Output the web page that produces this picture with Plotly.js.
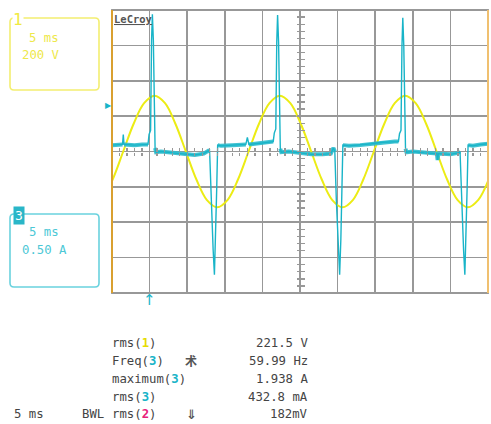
<!DOCTYPE html>
<html>
<head>
<meta charset="utf-8">
<script src="https://cdn.plot.ly/plotly-3.0.1.min.js"></script>
<style>html,body{margin:0;padding:0;background:#fff;}#chart{width:491px;height:424px;}</style>
</head>
<body>
<div id="chart"></div>
<script>
// ---- Channel 1: line voltage (V) ----
var voltTime = [-26.29,-24.90,-23.51,-22.12,-20.73,-19.34,-17.95,-16.57,-15.18,-13.79,-12.40,-11.01,-9.62,-8.23,
  -6.84,-5.45,-4.06,-2.68,-1.29,0.10,1.49,2.88,4.27,5.66,7.05,8.43,9.82,11.21,12.60,13.99,15.38,16.77,18.16,19.55,20.94,22.32,23.71,25.10];
var voltValue = [-273,-157,0,157,273,315,273,157,0,-157,-273,-315,-273,-157,
  0,157,273,315,273,157,0,-157,-273,-315,-273,-157,
  0,157,273,315,273,157,0,-157,-273,-315,-273,-157];

// ---- Channel 3: line current (A) ----
var curTime = [
 -25,-24,-23.6,-23.5,-23.4,-22,-21,-20.4,
 -20.21,-20.07,-19.87,-19.74,-19.63,-19.50,-19.41,-19.27,-19.14,
 -18.5,-17,-15.5,-14,-12.8,-12.2,
 -12.02,-11.82,-11.55,-11.38,-11.22,-11.08,-10.95,
 -10.5,-9,-7.2,-7.0,-6.8,-5,-3.8,
 -3.56,-3.42,-3.22,-3.09,-2.98,-2.85,-2.76,-2.62,-2.49,
 -1.5,0,1.5,3,4.1,4.45,
 4.63,4.83,5.10,5.27,5.43,5.57,5.70,
 6.5,8,9.5,11,12.6,
 13.09,13.23,13.43,13.56,13.67,13.80,13.89,14.03,14.16,
 15,16.5,18.2,18.3,18.4,20,21.0,
 21.28,21.48,21.75,21.92,22.08,22.22,22.35,
 23,24,25];
var curValue = [
 0.09,0.09,0.10,0.24,0.10,0.09,0.10,0.10,
 0.10,0.24,0.30,1.57,1.94,1.57,0.73,0.05,-0.01,
 0.00,-0.02,-0.04,-0.05,-0.03,0.01,
 0.00,-0.68,-1.39,-1.74,-1.25,-0.54,0.09,
 0.08,0.09,0.10,0.20,0.10,0.12,0.14,
 0.14,0.26,0.32,1.55,1.93,1.55,0.70,0.04,-0.01,
 0.00,-0.02,-0.04,-0.04,-0.03,0.05,
 0.00,-0.68,-1.39,-1.74,-1.25,-0.54,0.09,
 0.08,0.09,0.11,0.13,0.14,
 0.14,0.25,0.30,1.50,1.89,1.50,0.70,0.04,-0.01,
 0.00,-0.02,-0.03,-0.12,-0.03,-0.04,-0.02,
 0.00,-0.68,-1.39,-1.74,-1.25,-0.54,0.09,
 0.08,0.10,0.11];

// ---- Text ----
var ch1Label = ['5 ms', '200 V'];
var ch3Label = ['5 ms', '0.50 A'];
var measNames = ['rms(<b><span style="color:#e6dc00">1</span></b>)',
                 'Freq(<b><span style="color:#1ab4c8">3</span></b>)',
                 'maximum(<b><span style="color:#1ab4c8">3</span></b>)',
                 'rms(<b><span style="color:#1ab4c8">3</span></b>)',
                 'rms(<b><span style="color:#e8207a">2</span></b>)'];
var measValues = ['221.5 V', '59.99 Hz', '1.938 A', '432.8 mA', '182mV'];

var YEL = '#ecec14', CYAN = '#18b4c8', GRID = '#989898', TXT = '#444444';
var L = 112, R = 488, T = 10, B = 293;
function X(px){ return (px - L) / (R - L); }
function Y(py){ return (B - py) / (B - T); }
function rr(x0, y0, x1, y1, r){
  return 'M' + X(x0 + r) + ',' + Y(y0) + ' L' + X(x1 - r) + ',' + Y(y0) +
    ' Q' + X(x1) + ',' + Y(y0) + ' ' + X(x1) + ',' + Y(y0 + r) +
    ' L' + X(x1) + ',' + Y(y1 - r) +
    ' Q' + X(x1) + ',' + Y(y1) + ' ' + X(x1 - r) + ',' + Y(y1) +
    ' L' + X(x0 + r) + ',' + Y(y1) +
    ' Q' + X(x0) + ',' + Y(y1) + ' ' + X(x0) + ',' + Y(y1 - r) +
    ' L' + X(x0) + ',' + Y(y0 + r) +
    ' Q' + X(x0) + ',' + Y(y0) + ' ' + X(x0 + r) + ',' + Y(y0) + ' Z';
}
var MONO = 'DejaVu Sans Mono';
function ann(text, px, py, o){
  var a = {text: text, xref: 'paper', yref: 'paper', x: X(px), y: Y(py), showarrow: false,
    xanchor: 'left', yanchor: 'middle', font: {family: MONO, size: 12.3, color: TXT}};
  for (var k in o) a[k] = o[k];
  return a;
}

// noisy baseline band: only the quiet parts of the current trace
var bandValue = curValue.map(function(v){ return Math.abs(v) < 0.2 ? v : null; });

var traces = [
  {x: voltTime, y: voltValue, type: 'scatter', mode: 'lines', line: {color: YEL, width: 2, shape: 'spline', smoothing: 1}, xaxis: 'x', yaxis: 'y', hoverinfo: 'skip'},
  {x: curTime, y: bandValue, type: 'scatter', mode: 'lines', line: {color: '#2dbccd', width: 4}, opacity: 0.9, connectgaps: false, xaxis: 'x', yaxis: 'y2', hoverinfo: 'skip'},
  {x: curTime, y: curValue, type: 'scatter', mode: 'lines', line: {color: CYAN, width: 1.4}, xaxis: 'x', yaxis: 'y2', hoverinfo: 'skip'},
  {x: [null], y: [null], xaxis: 'x2', yaxis: 'y', hoverinfo: 'skip'},
  {x: [null], y: [null], xaxis: 'x3', yaxis: 'y', hoverinfo: 'skip'},
  {x: [null], y: [null], xaxis: 'x', yaxis: 'y3', hoverinfo: 'skip'},
  {x: [null], y: [null], xaxis: 'x', yaxis: 'y4', hoverinfo: 'skip'}
];

var tickAxisX = function(side){ return {overlaying: 'x', anchor: 'free', position: 0.5, range: [-25, 25],
  tickmode: 'linear', tick0: -25, dtick: 1, ticks: side, ticklen: 3.5, tickwidth: 1.3, tickcolor: GRID,
  showticklabels: false, showgrid: false, zeroline: false, showline: false}; };
var tickAxisY = function(side){ return {overlaying: 'y', anchor: 'free', position: 0.5, range: [-800, 800],
  tickmode: 'linear', tick0: -800, dtick: 40, ticks: side, ticklen: 3.5, tickwidth: 1.3, tickcolor: GRID,
  showticklabels: false, showgrid: false, zeroline: false, showline: false}; };

var annotations = [
  ann('1', 12, 19, {font: {family: MONO, size: 16, color: '#f0ea40'}, bgcolor: '#ffffff', borderpad: 0}),
  ann(ch1Label[0], 27, 38, {font: {family: MONO, size: 12.3, color: '#eee84a'}}),
  ann(ch1Label[1], 20, 55, {font: {family: MONO, size: 12.3, color: '#eee84a'}}),
  ann('3', 13, 215, {font: {family: MONO, size: 13, color: '#ffffff'}, bgcolor: '#29b6c8', borderpad: 1}),
  ann(ch3Label[0], 27, 232, {font: {family: MONO, size: 12.3, color: '#4cc8d6'}}),
  ann(ch3Label[1], 20, 250, {font: {family: MONO, size: 12.3, color: '#4cc8d6'}}),
  ann('<b>LeCroy</b>', 112, 19, {font: {family: MONO, size: 10.5, color: '#555555', lineposition: 'under'}}),
  ann('\u25B6', 103, 106, {font: {family: 'DejaVu Sans', size: 8, color: CYAN}}),
  {text: '\u2191', xref: 'x', yref: 'paper', x: -20, y: Y(300), showarrow: false, xanchor: 'center', yanchor: 'middle',
   font: {family: 'DejaVu Sans', size: 15, color: CYAN}},
  ann('5 ms', 12, 414),
  ann('BWL', 80, 414),
  ann('<b>\u672F</b>', 183, 360, {font: {family: 'Noto Sans CJK SC', size: 12, color: '#555'}}),
  ann('<b>\u21D3</b>', 184, 414, {font: {family: 'DejaVu Sans', size: 13, color: '#555'}})
];
var rowsY = [342.5, 360.5, 378.5, 396.5, 414];
for (var i = 0; i < measNames.length; i++) {
  annotations.push(ann(measNames[i], 110, rowsY[i]));
  annotations.push(ann(measValues[i], 310, rowsY[i], {xanchor: 'right'}));
}

var layout = {
  width: 491, height: 424,
  margin: {l: L, r: 491 - R, t: T, b: 424 - B, pad: 0},
  paper_bgcolor: '#ffffff', plot_bgcolor: '#ffffff',
  showlegend: false,
  xaxis: {range: [-25, 25], tickmode: 'linear', tick0: -25, dtick: 5, showgrid: true, gridcolor: GRID, gridwidth: 1.6,
    showticklabels: false, zeroline: false, showline: false, ticks: ''},
  yaxis: {range: [-800, 800], tickmode: 'linear', tick0: -800, dtick: 200, showgrid: true, gridcolor: GRID, gridwidth: 1.6,
    showticklabels: false, zeroline: false, showline: false, ticks: ''},
  yaxis2: {range: [-2, 2], overlaying: 'y', showgrid: false, showticklabels: false, zeroline: false, showline: false},
  xaxis2: tickAxisX('outside'), xaxis3: tickAxisX('inside'),
  yaxis3: tickAxisY('outside'), yaxis4: tickAxisY('inside'),
  shapes: [
    {type: 'rect', xref: 'paper', yref: 'paper', x0: 0, x1: 1, y0: 0, y1: 1, line: {color: GRID, width: 1.8}},
    {type: 'line', xref: 'paper', yref: 'paper', x0: 0, x1: 0, y0: 0, y1: 1, line: {color: '#d9a030', width: 2}},
    {type: 'line', xref: 'paper', yref: 'paper', x0: 1, x1: 1, y0: 0, y1: 1, line: {color: '#f0c070', width: 2}},
    {type: 'path', xref: 'paper', yref: 'paper', path: rr(10, 18, 99, 90, 4), line: {color: '#f3ee70', width: 1.6}},
    {type: 'path', xref: 'paper', yref: 'paper', path: rr(10, 214, 99, 287, 4), line: {color: '#6ad2de', width: 1.6}}
  ],
  annotations: annotations
};

Plotly.newPlot('chart', traces, layout, {displayModeBar: false, staticPlot: true});
</script>
</body>
</html>
